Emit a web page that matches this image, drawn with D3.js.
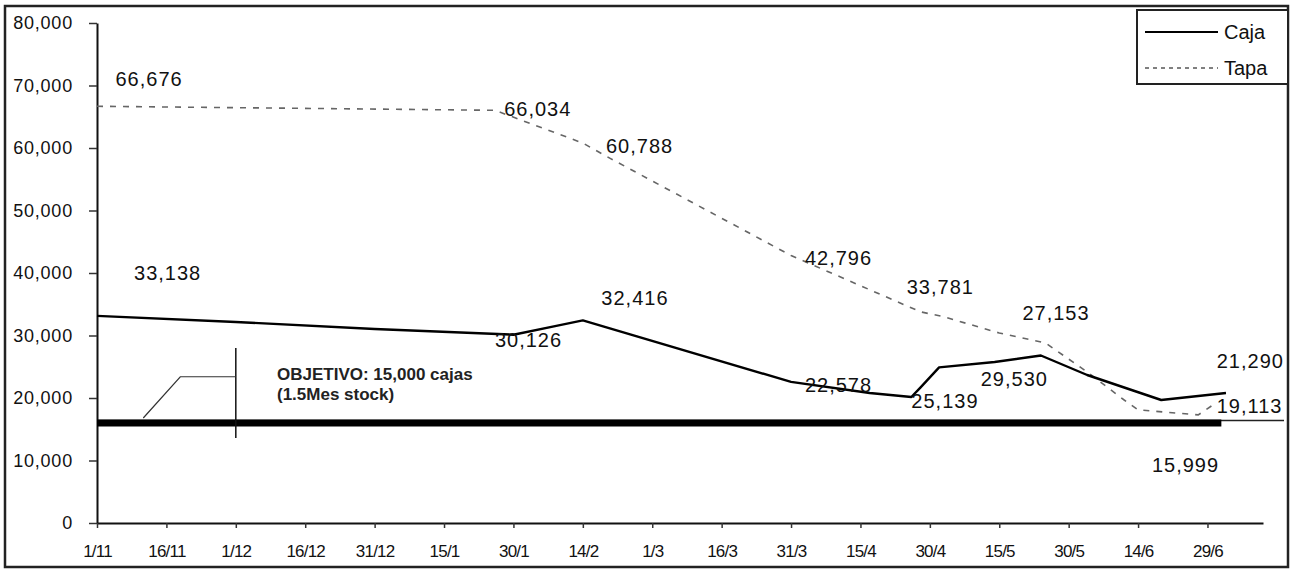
<!DOCTYPE html>
<html>
<head>
<meta charset="utf-8">
<script src="https://cdn.jsdelivr.net/npm/d3@7"></script>
<style>
  body { margin: 0; background: #fff; }
  text { font-family: Arial, "Liberation Sans", sans-serif; }
</style>
</head>
<body>
<div id="chart"></div>
<script>
// Caja (solid line)
const cajaDates = ['2006-11-01', '2006-12-01', '2006-12-31', '2007-01-30', '2007-02-08', '2007-02-14',
  '2007-03-31', '2007-04-17', '2007-04-26', '2007-04-28', '2007-05-02', '2007-05-14', '2007-05-24',
  '2007-06-03', '2007-06-19', '2007-07-03'];
const cajaValues = [33138, 32160, 31040, 30126, 31500, 32416,
  22578, 20800, 20160, 21700, 24900, 25760, 26800,
  23680, 19680, 20800];

// Tapa (dashed line)
const tapaDates = ['2006-11-01', '2007-01-26', '2007-02-14', '2007-02-20', '2007-03-31', '2007-04-28',
  '2007-05-03', '2007-05-15', '2007-05-25', '2007-06-03', '2007-06-11', '2007-06-14', '2007-06-27', '2007-06-30'];
const tapaValues = [66676, 66034, 60788, 58300, 42796, 33781,
  33000, 30400, 28800, 24160, 19680, 18100, 17300, 18800];

// objetivo (thick flat line)
const objetivoDates = ['2006-11-01', '2007-07-02'];
const objetivoValues = [15999, 15999];

const tickDates = ['2006-11-01', '2006-11-16', '2006-12-01', '2006-12-16', '2006-12-31', '2007-01-15',
  '2007-01-30', '2007-02-14', '2007-03-01', '2007-03-16', '2007-03-31', '2007-04-15', '2007-04-30',
  '2007-05-15', '2007-05-30', '2007-06-14', '2007-06-29'];
const yTicks = [0, 10000, 20000, 30000, 40000, 50000, 60000, 70000, 80000];

// value labels, anchored at (date, value) of their baseline start
const labelTexts = ['66,676', '33,138', '66,034', '60,788', '30,126', '32,416', '42,796', '33,781',
  '27,153', '29,530', '22,578', '25,139', '21,290', '19,113', '15,999'];
const labelDates = ['2006-11-05', '2006-11-09', '2007-01-28', '2007-02-19', '2007-01-26', '2007-02-18',
  '2007-04-03', '2007-04-25', '2007-05-20', '2007-05-11', '2007-04-03', '2007-04-26', '2007-07-01',
  '2007-07-01', '2007-06-17'];
const labelValues = [69900, 38900, 65100, 59200, 28160, 34880, 41280, 36640,
  32480, 21920, 20960, 18400, 24800, 17600, 8160];

const legendNames = ['Caja', 'Tapa'];

const width = 1296, height = 574;
const parse = d3.timeParse('%Y-%m-%d');
const fmt = d3.timeFormat('%-d/%-m');

const svg = d3.select('#chart').append('svg')
  .attr('width', width)
  .attr('height', height);

const x = d3.scaleTime()
  .domain([parse('2006-11-01'), parse('2007-07-11')])
  .range([97, 1263]);
const y = d3.scaleLinear()
  .domain([0, 80000])
  .range([523, 23]);

// outer frame
svg.append('rect')
  .attr('x', 5).attr('y', 6)
  .attr('width', 1283).attr('height', 561)
  .attr('fill', 'none')
  .attr('stroke', '#222')
  .attr('stroke-width', 2.5);

// axes
const yAxis = d3.axisLeft(y)
  .tickValues(yTicks)
  .tickFormat(d3.format(','))
  .tickSizeInner(8)
  .tickSizeOuter(0)
  .tickPadding(16);
const gy = svg.append('g')
  .attr('transform', `translate(${x.range()[0]},0)`)
  .call(yAxis);
gy.select('.domain').attr('stroke', '#111').attr('stroke-width', 2);
gy.selectAll('.tick line').attr('stroke', '#333').attr('stroke-width', 1.5);
gy.selectAll('.tick text')
  .style('font-size', '18px')
  .style('letter-spacing', '0.8px')
  .attr('fill', '#111');

const xAxis = d3.axisBottom(x)
  .tickValues(tickDates.map(parse))
  .tickFormat(fmt)
  .tickSizeInner(5)
  .tickSizeOuter(0)
  .tickPadding(17);
const gx = svg.append('g')
  .attr('transform', `translate(0,${y(0)})`)
  .call(xAxis);
gx.select('.domain').attr('stroke', '#111').attr('stroke-width', 2);
gx.selectAll('.tick line').attr('stroke', '#333').attr('stroke-width', 1.5);
gx.selectAll('.tick text')
  .style('font-size', '17px')
  .style('letter-spacing', '-0.8px')
  .attr('fill', '#111');

const line = d3.line()
  .x(d => x(d[0]))
  .y(d => y(d[1]));

const zip = (ds, vs) => ds.map((d, i) => [parse(d), vs[i]]);

// objetivo line: thin continuation to the frame plus thick band
svg.append('line')
  .attr('x1', x(parse(objetivoDates[0])))
  .attr('x2', 1284)
  .attr('y1', y(objetivoValues[0]) - 2.5)
  .attr('y2', y(objetivoValues[0]) - 2.5)
  .attr('stroke', '#222')
  .attr('stroke-width', 1.5);
svg.append('path')
  .datum(zip(objetivoDates, objetivoValues))
  .attr('d', line)
  .attr('fill', 'none')
  .attr('stroke', '#000')
  .attr('stroke-width', 7);

// Tapa
svg.append('path')
  .datum(zip(tapaDates, tapaValues))
  .attr('d', line)
  .attr('fill', 'none')
  .attr('stroke', '#666')
  .attr('stroke-width', 1.6)
  .attr('stroke-dasharray', '6,7');

// Caja
svg.append('path')
  .datum(zip(cajaDates, cajaValues))
  .attr('d', line)
  .attr('fill', 'none')
  .attr('stroke', '#000')
  .attr('stroke-width', 2.4)
  .attr('stroke-linejoin', 'round');

// value labels
svg.append('g')
  .selectAll('text')
  .data(labelTexts)
  .join('text')
  .attr('x', (d, i) => x(parse(labelDates[i])))
  .attr('y', (d, i) => y(labelValues[i]))
  .style('font-size', '20px')
  .style('letter-spacing', '1px')
  .attr('fill', '#111')
  .text(d => d);

// objetivo callout
const cx = x(parse('2006-12-01'));
svg.append('line')
  .attr('x1', cx).attr('x2', cx)
  .attr('y1', y(28000)).attr('y2', y(13600))
  .attr('stroke', '#111').attr('stroke-width', 1.5);
svg.append('path')
  .attr('d', d3.line()([
    [x(parse('2006-11-11')), y(16800)],
    [x(parse('2006-11-19')), y(23400)],
    [cx, y(23400)]
  ]))
  .attr('fill', 'none')
  .attr('stroke', '#333')
  .attr('stroke-width', 1.2);

const note = svg.append('text')
  .attr('x', 277)
  .attr('y', 380)
  .style('font-size', '17px')
  .style('font-weight', 'bold')
  .attr('fill', '#222');
note.append('tspan').attr('x', 277).text('OBJETIVO: 15,000 cajas');
note.append('tspan').attr('x', 277).attr('dy', 20).text('(1.5Mes stock)');

// legend
const lg = svg.append('g');
lg.append('rect')
  .attr('x', 1137).attr('y', 10)
  .attr('width', 151).attr('height', 74)
  .attr('fill', '#fff')
  .attr('stroke', '#222')
  .attr('stroke-width', 2);
legendNames.forEach((name, i) => {
  const ly = 32 + i * 36;
  lg.append('line')
    .attr('x1', 1145).attr('x2', 1218)
    .attr('y1', ly).attr('y2', ly)
    .attr('stroke', '#000')
    .attr('stroke-width', i === 0 ? 2 : 1)
    .attr('stroke-dasharray', i === 0 ? null : '4,4');
  lg.append('text')
    .attr('x', 1224)
    .attr('y', ly + 7)
    .style('font-size', '20px')
    .attr('fill', '#111')
    .text(name);
});
</script>
</body>
</html>
